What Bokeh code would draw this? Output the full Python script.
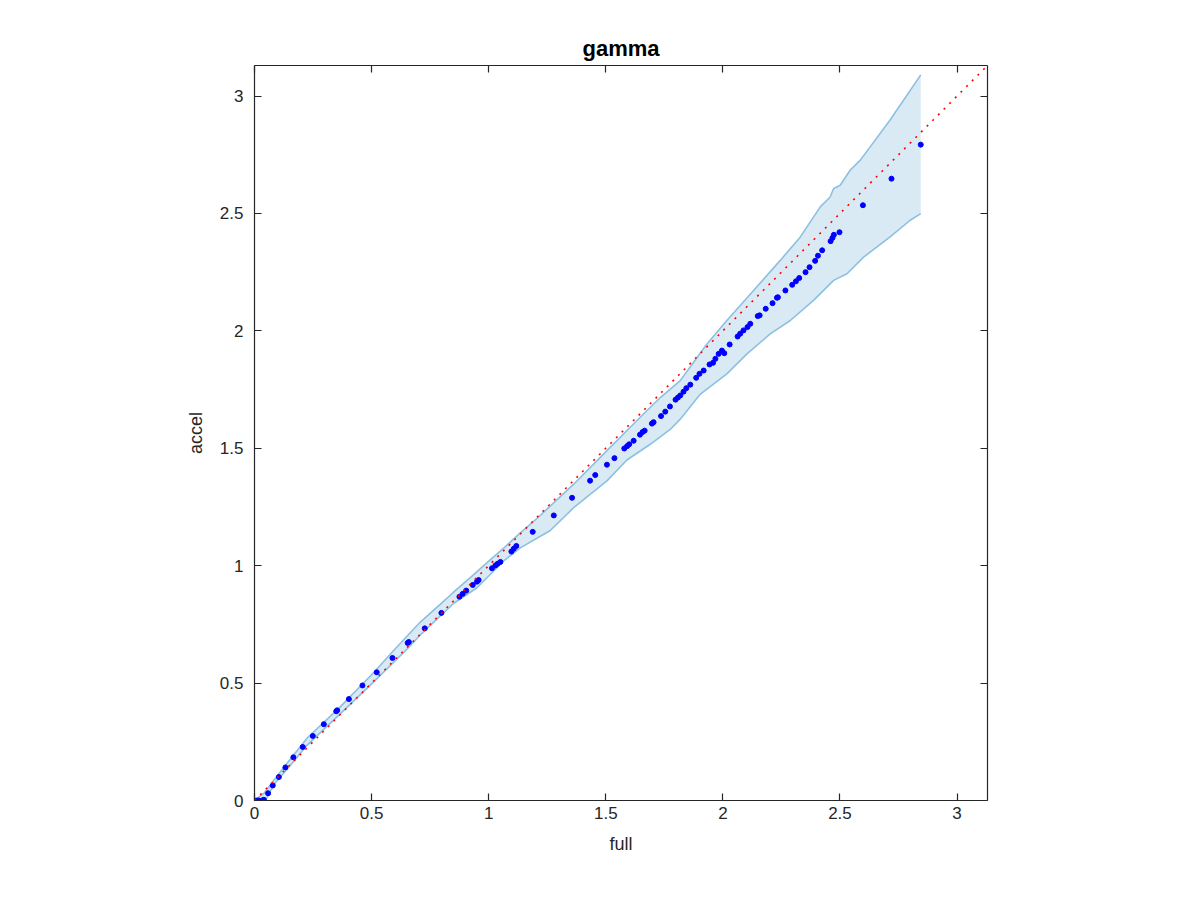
from bokeh.plotting import figure
from bokeh.models import Range1d, LinearAxis, FixedTicker, CustomJSTickFormatter
from bokeh.embed import file_html
from bokeh.resources import INLINE

# ---------------- data ----------------
full = [0.000, 0.010, 0.018, 0.032, 0.040, 0.058, 0.078, 0.104, 0.132, 0.166,
        0.206, 0.249, 0.296, 0.349, 0.353, 0.403, 0.461, 0.522, 0.589, 0.654,
        0.659, 0.727, 0.798, 0.875, 0.889, 0.904, 0.932, 0.950, 0.957, 1.014,
        1.029, 1.038, 1.050, 1.097, 1.107, 1.118, 1.188, 1.278, 1.356, 1.433,
        1.455, 1.505, 1.537, 1.579, 1.591, 1.600, 1.619, 1.646, 1.657, 1.666,
        1.697, 1.704, 1.736, 1.754, 1.774, 1.798, 1.808, 1.818, 1.832, 1.844,
        1.861, 1.886, 1.900, 1.918, 1.943, 1.958, 1.968, 1.982, 1.996, 2.006,
        2.029, 2.063, 2.074, 2.088, 2.105, 2.117, 2.149, 2.157, 2.183, 2.212,
        2.231, 2.235, 2.267, 2.296, 2.312, 2.326, 2.353, 2.370, 2.394, 2.406,
        2.424, 2.460, 2.468, 2.474, 2.498, 2.598, 2.720, 2.845]
accel = [0.000, 0.000, 0.000, 0.000, 0.003, 0.031, 0.064, 0.100, 0.141, 0.184,
         0.228, 0.275, 0.325, 0.380, 0.384, 0.432, 0.490, 0.546, 0.607, 0.671,
         0.675, 0.733, 0.799, 0.868, 0.880, 0.894, 0.918, 0.932, 0.939, 0.989,
         1.001, 1.008, 1.016, 1.060, 1.072, 1.084, 1.144, 1.214, 1.289, 1.362,
         1.386, 1.430, 1.458, 1.499, 1.509, 1.517, 1.532, 1.558, 1.569, 1.575,
         1.605, 1.611, 1.637, 1.656, 1.678, 1.707, 1.716, 1.725, 1.741, 1.756,
         1.771, 1.800, 1.817, 1.831, 1.857, 1.864, 1.881, 1.902, 1.916, 1.905,
         1.942, 1.976, 1.988, 2.002, 2.016, 2.030, 2.063, 2.066, 2.094, 2.118,
         2.141, 2.143, 2.172, 2.196, 2.211, 2.225, 2.250, 2.271, 2.298, 2.320,
         2.343, 2.382, 2.396, 2.409, 2.420, 2.535, 2.648, 2.793]

upper_x = [0.000, 0.040, 0.082, 0.139, 0.225, 0.367, 0.509, 0.600, 0.708, 0.794,
           0.851, 0.936, 0.993, 1.064, 1.135, 1.207, 1.363, 1.505, 1.647, 1.733,
           1.818, 1.875, 1.932, 2.017, 2.074, 2.131, 2.245, 2.330, 2.416, 2.458,
           2.473, 2.501, 2.544, 2.587, 2.714, 2.845]
upper_y = [0.000, 0.030, 0.085, 0.159, 0.266, 0.400, 0.545, 0.645, 0.760, 0.836,
           0.888, 0.962, 1.013, 1.075, 1.140, 1.202, 1.347, 1.490, 1.632, 1.716,
           1.788, 1.866, 1.944, 2.044, 2.108, 2.172, 2.300, 2.399, 2.528, 2.570,
           2.606, 2.620, 2.685, 2.727, 2.898, 3.090]

lower_x = [0.000, 0.047, 0.082, 0.139, 0.225, 0.367, 0.509, 0.652, 0.708, 0.851,
           0.950, 1.064, 1.135, 1.263, 1.363, 1.505, 1.590, 1.690, 1.775, 1.818,
           1.904, 2.017, 2.103, 2.202, 2.288, 2.387, 2.473, 2.530, 2.601, 2.714,
           2.800, 2.845]
lower_y = [0.000, 0.000, 0.067, 0.133, 0.236, 0.370, 0.505, 0.645, 0.705, 0.840,
           0.906, 1.020, 1.076, 1.150, 1.247, 1.361, 1.450, 1.517, 1.580, 1.624,
           1.731, 1.817, 1.902, 1.987, 2.044, 2.130, 2.215, 2.243, 2.314, 2.400,
           2.471, 2.499]

ticks = [0, 0.5, 1, 1.5, 2, 2.5, 3]
axis_max = 3.13
identity = [0, axis_max]

# ---------------- styles ----------------
FONT = "Liberation Sans"
TXT = "#262626"
FILL = "#d9eaf5"
EDGE = "#8cc0e1"

p = figure(width=1184, height=884, output_backend="svg", toolbar_location=None,
           x_range=Range1d(0, axis_max), y_range=Range1d(0, axis_max),
           min_border_left=254, min_border_right=197,
           min_border_top=65, min_border_bottom=84,
           title="gamma", x_axis_label="full", y_axis_label="accel")

p.grid.visible = False
p.outline_line_color = None
p.background_fill_color = "white"
p.border_fill_color = "white"

p.title.align = "center"
p.title.text_font = FONT
p.title.text_font_size = "22px"
p.title.text_font_style = "bold"
p.title.text_color = "black"
p.title.standoff = 10

label_fmt = CustomJSTickFormatter(code="return tick.toString();")
blank_fmt = CustomJSTickFormatter(code="return '';")

def style_axis(ax, labels=True):
    ax.ticker = FixedTicker(ticks=ticks)
    ax.major_tick_in = 7
    ax.major_tick_out = 0
    ax.minor_tick_line_color = None
    ax.axis_line_color = TXT
    ax.axis_line_width = 1.2
    ax.major_tick_line_color = TXT
    ax.major_tick_line_width = 1.2
    if labels:
        ax.formatter = label_fmt
        ax.major_label_text_font = FONT
        ax.major_label_text_font_size = "17px"
        ax.major_label_text_color = TXT
        ax.axis_label_text_font = FONT
        ax.axis_label_text_font_size = "18px"
        ax.axis_label_text_font_style = "normal"
        ax.axis_label_text_color = TXT
    else:
        ax.formatter = blank_fmt
        ax.major_label_standoff = 0

style_axis(p.xaxis[0])
style_axis(p.yaxis[0])
p.xaxis[0].major_label_standoff = 6
p.yaxis[0].major_label_standoff = 11
p.xaxis[0].axis_label_standoff = 12
p.yaxis[0].axis_label_standoff = 11

top_ax = LinearAxis()
right_ax = LinearAxis()
style_axis(top_ax, labels=False)
style_axis(right_ax, labels=False)
p.add_layout(top_ax, "above")
p.add_layout(right_ax, "right")

# ---------------- glyphs ----------------
band_x = upper_x + lower_x[::-1]
band_y = upper_y + lower_y[::-1]
p.patch(band_x, band_y, fill_color=FILL, line_color=None)
p.line(upper_x, upper_y, line_color=EDGE, line_width=1.6)
p.line(lower_x, lower_y, line_color=EDGE, line_width=1.6)

p.scatter(full, accel, size=5, fill_color="#0000ff", line_color="#0000ff")

p.line(identity, identity, line_color="#ff0000", line_width=1.6, line_dash="2 6")

open("out.html", "w").write(file_html(p, INLINE))
